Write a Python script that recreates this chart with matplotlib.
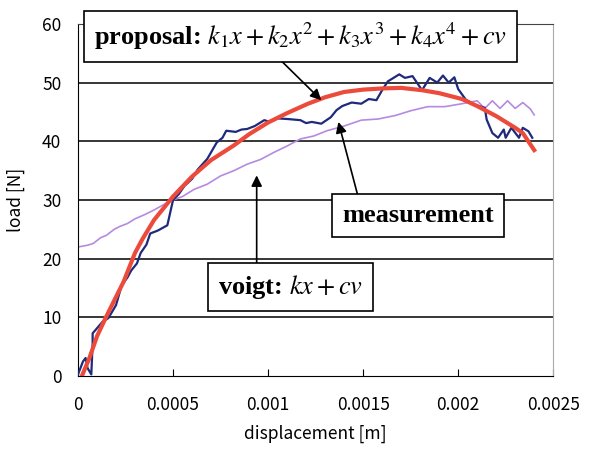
import matplotlib
matplotlib.use('Agg')
import matplotlib.pyplot as plt

plt.rcParams['mathtext.fontset'] = 'stix'

# measurement (blue)
meas_x = [0, 0.000026, 0.00004, 0.00005, 0.00007, 0.000077, 0.000077, 0.00013, 0.00016,
          0.0002, 0.00023, 0.00026, 0.00028, 0.00031, 0.00033, 0.00036, 0.00038, 0.00042,
          0.00047, 0.0005, 0.00053, 0.00056, 0.0006, 0.00063, 0.00068, 0.00073, 0.00076,
          0.00078, 0.00083, 0.00086, 0.00089, 0.00093, 0.00098, 0.00101, 0.00105, 0.0011,
          0.00117, 0.0012, 0.00123, 0.00128, 0.00133, 0.00136, 0.00139, 0.00144, 0.00149,
          0.00153, 0.00157, 0.0016, 0.00163, 0.00169, 0.00172, 0.00176, 0.00181, 0.00185,
          0.00189, 0.00192, 0.00195, 0.00198, 0.002, 0.00204, 0.00208, 0.00214, 0.00215,
          0.00218, 0.00221, 0.00224, 0.00225, 0.00228, 0.00232, 0.00234, 0.00237, 0.00239]
meas_y = [0.3, 2.5, 3.1, 1.4, 0.3, 5.6, 7.3, 9.3, 9.9,
          12.1, 15.5, 16.8, 18.0, 19.2, 21.0, 22.4, 24.3, 24.8,
          25.7, 30.0, 31.0, 32.4, 33.6, 35.2, 37.0, 39.8, 40.6,
          41.8, 41.6, 42.0, 42.1, 42.6, 43.6, 43.3, 43.9, 43.8,
          43.6, 43.1, 43.3, 43.0, 44.1, 45.3, 46.0, 46.6, 46.4,
          47.2, 47.0, 48.7, 50.2, 51.4, 50.8, 51.1, 48.7, 50.8,
          50.0, 51.2, 50.0, 50.9, 48.9, 47.1, 46.3, 45.7, 43.7,
          41.4, 40.6, 42.0, 40.6, 42.3, 40.6, 42.3, 41.7, 40.6]

# proposal fit (red)
prop_x = [0.00002, 0.00006, 0.0001, 0.000145, 0.0002, 0.00024, 0.0003, 0.00034, 0.0004,
          0.0005, 0.0006, 0.0007, 0.00082, 0.0009, 0.001, 0.0011, 0.00121, 0.0013, 0.0014,
          0.0015, 0.0016, 0.0017, 0.00181, 0.0019, 0.00202, 0.0021, 0.0022, 0.0023,
          0.00234, 0.0024]
prop_y = [0.0, 3.1, 6.8, 9.9, 13.5, 16.1, 21.0, 23.4, 26.6,
          30.6, 34.0, 36.8, 39.3, 41.2, 43.2, 44.8, 46.4, 47.5, 48.4,
          48.8, 49.0, 49.1, 48.7, 48.2, 47.2, 46.0, 44.3, 42.3,
          41.4, 38.5]

# voigt model (purple)
voigt_x = [0, 0.00005, 0.00008, 0.00012, 0.00015, 0.00019, 0.00022, 0.00026, 0.0003,
           0.00035, 0.0004, 0.00045, 0.0005, 0.00055, 0.00061, 0.00068, 0.00075, 0.00082,
           0.00089, 0.00096, 0.00103, 0.0011, 0.00117, 0.00124, 0.00131, 0.0014, 0.00149,
           0.00158, 0.00167, 0.00175, 0.00184, 0.00193, 0.00202, 0.0021, 0.00214, 0.00218,
           0.00222, 0.00226, 0.0023, 0.00234, 0.00238, 0.0024]
voigt_y = [22.0, 22.3, 22.6, 23.6, 24.0, 25.0, 25.5, 26.0, 26.8,
           27.5, 28.3, 29.2, 30.0, 30.6, 31.8, 32.7, 34.1, 35.0,
           36.1, 36.9, 38.1, 39.2, 40.4, 40.9, 41.8, 42.6, 43.6,
           43.8, 44.4, 45.2, 45.9, 45.9, 46.4, 46.9, 45.6, 46.9,
           45.6, 46.9, 45.6, 46.6, 45.5, 44.5]

y_ticks = [0, 10, 20, 30, 40, 50, 60]
x_ticks = [0, 0.0005, 0.001, 0.0015, 0.002, 0.0025]
x_labels = ['0', '0.0005', '0.001', '0.0015', '0.002', '0.0025']

fig = plt.figure(figsize=(6, 4.5), dpi=100)
ax = fig.add_axes([0.13, 0.164, 0.792, 0.783])

for v in y_ticks[1:]:
    ax.axhline(v, color='black', lw=1.1, zorder=1)

ax.plot(voigt_x, voigt_y, color='#B58AE0', lw=1.2, zorder=2)
ax.plot(meas_x, meas_y, color='#1E2A7C', lw=1.6, zorder=3)
ax.plot(prop_x, prop_y, color='#EC4B3C', lw=3.0, zorder=4)

ax.set_xlim(0, 0.0025)
ax.set_ylim(0, 60)
ax.set_yticks(y_ticks)
ax.set_xticks(x_ticks)
ax.set_xticklabels(x_labels)
ax.tick_params(axis='x', direction='in', length=5, pad=14, labelsize=12.5)
ax.tick_params(axis='y', length=0, pad=12, labelsize=12.5)
for lab in ax.get_xticklabels() + ax.get_yticklabels():
    lab.set_family('Noto Sans CJK JP')

ax.spines['left'].set_color('black')
ax.spines['bottom'].set_color('black')
ax.spines['right'].set_color('#AAAAAA')
ax.spines['top'].set_color('#444444')

ax.set_xlabel('displacement [m]', family='Noto Sans CJK JP', fontsize=12.5, labelpad=8)
ax.set_ylabel('load [N]', family='Noto Sans CJK JP', fontsize=12.5, labelpad=12)

box = dict(boxstyle='square,pad=0.38', facecolor='white', edgecolor='black', lw=1.2)
arrow = dict(arrowstyle='-|>', color='black', lw=1.2, mutation_scale=16, shrinkA=0, shrinkB=0)

ax.annotate('', xy=(0.00128, 47.0), xytext=(0.00106, 54.0), arrowprops=arrow, zorder=5)
ax.annotate('', xy=(0.00137, 43.3), xytext=(0.00147, 31.0), arrowprops=arrow, zorder=5)
ax.annotate('', xy=(0.00094, 34.2), xytext=(0.00094, 19.0), arrowprops=arrow, zorder=5)

ax.text(0.00117, 57.9, r'proposal: $k_1x+k_2x^2+k_3x^3+k_4x^4+cv$', family='Liberation Serif',
        fontweight='bold', fontsize=19, ha='center', va='center', bbox=box, zorder=6, clip_on=False)
ax.text(0.00179, 27.4, 'measurement', family='Liberation Serif', fontweight='bold',
        fontsize=19, ha='center', va='center', bbox=box, zorder=6)
ax.text(0.00112, 15.2, r'voigt: $kx+cv$', family='Liberation Serif', fontweight='bold',
        fontsize=19, ha='center', va='center', bbox=box, zorder=6)

fig.savefig('out.png', dpi=100)
